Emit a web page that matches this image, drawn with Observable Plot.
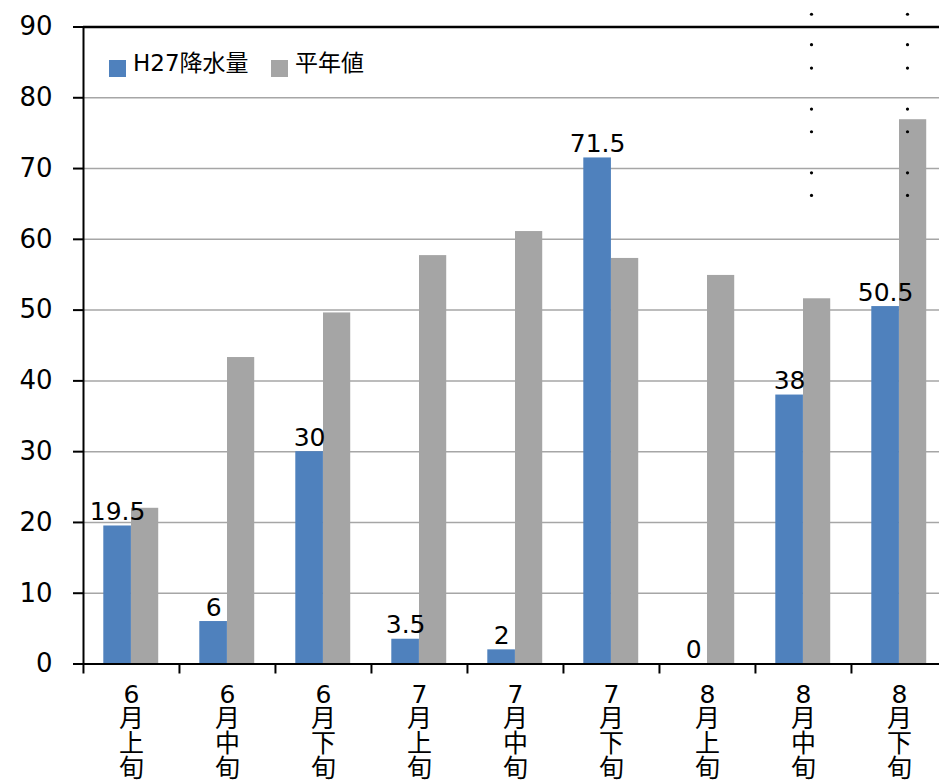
<!DOCTYPE html>
<html>
<head>
<meta charset="utf-8">
<script src="https://cdn.jsdelivr.net/npm/d3@7"></script>
<script src="https://cdn.jsdelivr.net/npm/@observablehq/plot@0.6"></script>
<style>
  html, body { margin: 0; padding: 0; background: #fff; }
  #wrap { position: relative; width: 939px; height: 783px; overflow: hidden;
          font-family: "DejaVu Sans", "Noto Sans CJK JP", sans-serif; }
  .sw { position: absolute; width: 17px; height: 17px; }
  .lt { position: absolute; font-size: 23px; line-height: 23px; color: #000; white-space: nowrap; }
</style>
</head>
<body>
<div id="wrap"></div>
<script>
const categories = ["6月上旬","6月中旬","6月下旬","7月上旬","7月中旬","7月下旬","8月上旬","8月中旬","8月下旬"];
const h27Values = [19.5, 6, 30, 3.5, 2, 71.5, 0, 38, 50.5];
const normalValues = [22.0, 43.3, 49.6, 57.7, 61.1, 57.3, 54.9, 51.6, 76.9];
const seriesNames = ["H27降水量", "平年値"];
const seriesColors = ["#4F81BD", "#A5A5A5"];
const yTicks = [0, 10, 20, 30, 40, 50, 60, 70, 80, 90];
const dotCategories = ["8月中旬", "8月下旬"];
const dotLevels = [91.8, 87.5, 84.2, 78.4, 75.2, 69.4, 66.2];

const rows = categories.map((c, i) => ({cat: c, h27: h27Values[i], normal: normalValues[i]}));
const dots = dotCategories.flatMap(c => dotLevels.map(v => ({cat: c, v})));

const band = (947.7 - 83) / categories.length;
const font = "'DejaVu Sans', 'Noto Sans CJK JP', sans-serif";

const chart = Plot.plot({
  width: 939,
  height: 783,
  marginLeft: 83,
  marginRight: 0,
  marginTop: 26.5,
  marginBottom: 119.5,
  style: {fontFamily: font, fontSize: "25px", color: "#000", background: "#fff", overflow: "hidden"},
  x: {type: "band", domain: categories, range: [83, 947.7], padding: 0, axis: null, label: null},
  y: {domain: [0, 90], range: [663.5, 26.5], axis: null, label: null},
  marks: [
    Plot.ruleY(yTicks.filter(d => d > 0 && d < 90), {stroke: "#a6a6a6", strokeWidth: 1.5}),
    Plot.barY(rows, {x: "cat", y: "h27", fill: seriesColors[0], insetLeft: 20.3, insetRight: band - 20.3 - 27.7}),
    Plot.barY(rows, {x: "cat", y: "normal", fill: seriesColors[1], insetLeft: 48, insetRight: band - 48 - 27.3}),
    Plot.ruleY([90], {stroke: "#000", strokeWidth: 2.5}),
    Plot.ruleY([0], {stroke: "#000", strokeWidth: 2}),
    Plot.frame({anchor: "left", stroke: "#000", strokeWidth: 2}),
    Plot.axisY({ticks: yTicks, tickSize: 10, tickPadding: 21, fontSize: 26, stroke: "#000", fill: "#000", strokeWidth: 2, label: null, tickFormat: d => String(d)}),
    Plot.axisX({tickSize: 10, text: null, label: null, dx: -band / 2, stroke: "#000", strokeWidth: 2}),
    Plot.text(categories, {x: d => d, text: d => d.split("").join("\n"), frameAnchor: "bottom", lineAnchor: "top", dy: 21, fontSize: 25, lineHeight: 0.99, fill: "#000"}),
    Plot.text(rows, {x: "cat", y: "h27", text: d => String(d.h27), dx: 20.3 + 27.7 / 2 - band / 2, dy: -6, lineAnchor: "bottom", fontSize: 25, fill: "#000"}),
    Plot.dot(dots, {x: "cat", y: "v", dx: 8, r: 1.6, fill: "#000", stroke: null})
  ]
});

const wrap = document.getElementById("wrap");
wrap.appendChild(chart);

// legend
const legendPos = [{sx: 109, tx: 133}, {sx: 271, tx: 295}];
seriesNames.forEach((name, i) => {
  const sw = document.createElement("div");
  sw.className = "sw";
  sw.style.left = legendPos[i].sx + "px";
  sw.style.top = "60px";
  sw.style.background = seriesColors[i];
  wrap.appendChild(sw);
  const t = document.createElement("div");
  t.className = "lt";
  t.style.left = legendPos[i].tx + "px";
  t.style.top = "52px";
  t.textContent = name;
  wrap.appendChild(t);
});
</script>
</body>
</html>
